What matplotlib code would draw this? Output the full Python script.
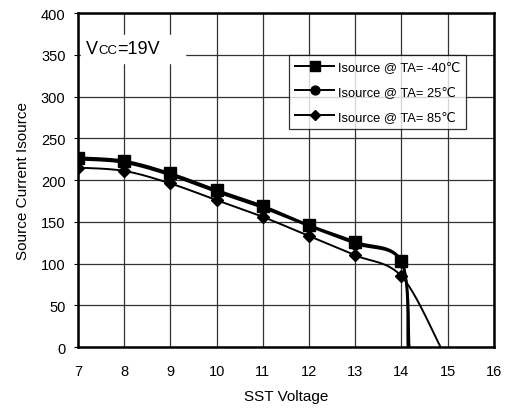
import numpy as np
import matplotlib
matplotlib.use("Agg")
import matplotlib.pyplot as plt
from matplotlib.offsetbox import TextArea, HPacker, AnchoredOffsetbox

plt.rcParams['font.family'] = ['Liberation Sans', 'DejaVu Sans']

volts = [7, 8, 9, 10, 11, 12, 13, 14]
i_m40 = [227, 223, 208, 188, 169, 146, 126, 103]
i_25 = [225, 221, 206, 186, 167, 145, 124, 102]
i_85 = [215, 211, 196, 176, 156, 133, 110, 85]
# voltage where each curve falls to zero
cut_m40 = 14.17
cut_25 = 14.14
cut_85 = 14.85
labels = ['Isource @ TA= -40\u2103', 'Isource @ TA= 25\u2103', 'Isource @ TA= 85\u2103']

XS = 46.2   # px per volt, smoothing done in screen-like units
YS = 0.835  # px per mA


def smooth(xs, ys, n=25):
    # catmull-rom style curve through the points, like excel's smoothed line
    xs = np.asarray(xs, float) * XS
    ys = np.asarray(ys, float) * YS
    px = np.concatenate([[xs[0]], xs, [xs[-1]]])
    py = np.concatenate([[ys[0]], ys, [ys[-1]]])
    ox, oy = [], []
    t = np.linspace(0, 1, n)
    for k in range(1, len(px)-2):
        for arr, out in ((px, ox), (py, oy)):
            p0, p1, p2, p3 = arr[k-1], arr[k], arr[k+1], arr[k+2]
            m1 = (p2 - p0) / 6
            m2 = (p3 - p1) / 6
            b = ((1-t)**3*p1 + 3*(1-t)**2*t*(p1+m1) + 3*(1-t)*t**2*(p2-m2) + t**3*p2)
            out.extend(b)
    return np.array(ox) / XS, np.array(oy) / YS


fig = plt.figure(figsize=(5.07, 4.14), dpi=100)
ax = fig.add_axes([0.154, 0.159, 0.820, 0.807])

series = [(i_m40, cut_m40, 's', 8.5, 1.8), (i_25, cut_25, 'o', 7.5, 1.8), (i_85, cut_85, 'D', 6, 1.4)]
for (ys, cut, mk, ms, lw), lab in zip(series, labels):
    sx, sy = smooth(volts + [cut], ys + [0])
    ax.plot(sx, sy, color='black', lw=lw, zorder=3)
    ax.plot(volts, ys, linestyle='none', marker=mk, ms=ms, color='black', zorder=4)
    ax.plot([], [], color='black', lw=1.4, marker=mk, ms=ms*0.85, label=lab)

ax.set_xlim(7, 16)
ax.set_ylim(0, 400)
ax.set_xticks(range(7, 17))
ax.set_yticks(range(0, 401, 50))
ax.grid(True, color='#333333', lw=0.9)
ax.set_axisbelow(True)
for s in ax.spines.values():
    s.set_linewidth(1.8)
ax.tick_params(axis='x', length=0, pad=12, labelsize=10.5)
ax.tick_params(axis='y', length=3, pad=6, labelsize=10.5)
ax.set_xlabel('SST Voltage', fontsize=11, labelpad=8)
ax.set_ylabel('Source Current Isource', fontsize=11, labelpad=8)

leg = ax.legend(loc='upper right', bbox_to_anchor=(0.933, 0.874), fontsize=9.3,
                frameon=True, fancybox=False, handlelength=3.0, borderpad=0.45,
                labelspacing=1.0, handletextpad=0.3, borderaxespad=0)
leg.get_frame().set_edgecolor('black')
leg.get_frame().set_linewidth(0.9)

vcc = HPacker(children=[TextArea('V', textprops=dict(size=13)),
                        TextArea('CC', textprops=dict(size=9.5)),
                        TextArea('=19V', textprops=dict(size=13)),
                        TextArea('    ', textprops=dict(size=13))],
              align='baseline', pad=0, sep=0)
box = AnchoredOffsetbox(loc='upper left', child=vcc, pad=0.4, borderpad=0.0,
                        frameon=True, bbox_to_anchor=(0.006, 0.935),
                        bbox_transform=ax.transAxes)
box.patch.set_edgecolor('white')
box.patch.set_facecolor('white')
box.set_zorder(5)
ax.add_artist(box)

fig.savefig('out.png', dpi=100)
